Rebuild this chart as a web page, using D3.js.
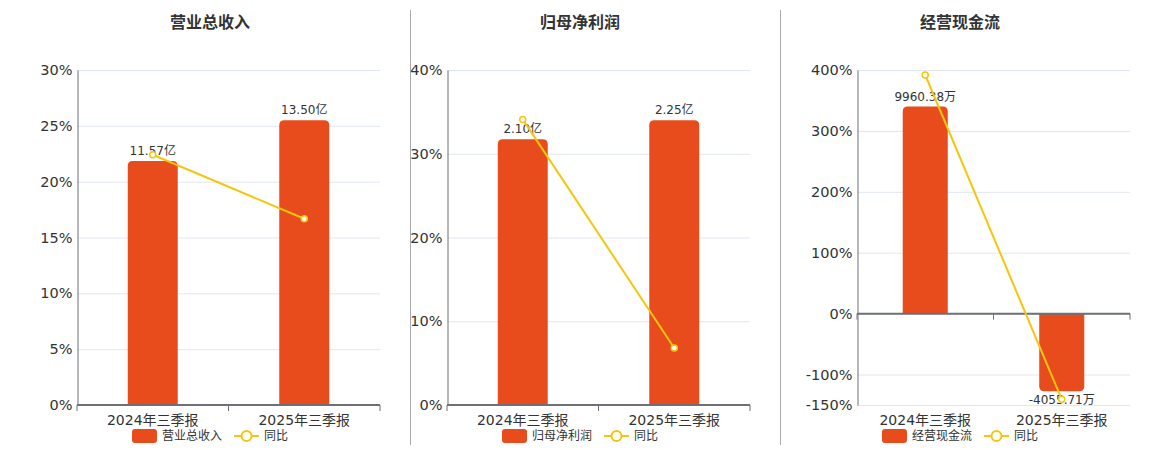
<!DOCTYPE html>
<html><head><meta charset="utf-8">
<script src="https://cdn.jsdelivr.net/npm/d3@7/dist/d3.min.js"></script>
<style>
html,body{margin:0;padding:0;background:#fff;}
svg{display:block;font-family:"DejaVu Sans","Noto Sans CJK SC",sans-serif;}
</style></head>
<body><svg id="c" width="1160" height="450"></svg>
<script>
const categories = ["2024年三季报", "2025年三季报"];
const titles = ["营业总收入", "归母净利润", "经营现金流"];
const barValues = [[11.57, 13.50], [2.10, 2.25], [9960.38, -4055.71]];
const barUnits = ["亿", "亿", "万"];
const yoyValues = [[22.41, 16.68], [34.1, 6.81], [391.8, -140.72]];
const yTicks = [[0, 5, 10, 15, 20, 25, 30], [0, 10, 20, 30, 40], [-150, -100, 0, 100, 200, 300, 400]];
const lineName = "同比";

const BAR = "#E84C1C", LINE = "#F4C60E", TXT = "#333", AX = "#6E7079", GRID = "#E0E6F1";
const panels = [
  {left: 77, right: 380, center: 210},
  {left: 447, right: 750, center: 580},
  {left: 857, right: 1130, center: 960}
];
const plotTop = 70, plotBottom = 405;
const svg = d3.select("#c");

[410, 780].forEach(x => svg.append("line").attr("x1", x + 0.5).attr("x2", x + 0.5).attr("y1", 10).attr("y2", 445)
  .attr("stroke", "#aaa").attr("stroke-width", 1));

function barPath(x, w, y0, y1, r) {
  const h = Math.abs(y1 - y0);
  r = Math.min(r, h, w / 2);
  if (y1 < y0) {
    return `M${x},${y0}L${x},${y1 + r}Q${x},${y1} ${x + r},${y1}L${x + w - r},${y1}Q${x + w},${y1} ${x + w},${y1 + r}L${x + w},${y0}Z`;
  } else {
    return `M${x},${y0}L${x},${y1 - r}Q${x},${y1} ${x + r},${y1}L${x + w - r},${y1}Q${x + w},${y1} ${x + w},${y1 - r}L${x + w},${y0}Z`;
  }
}

panels.forEach((p, i) => {
  const g = svg.append("g");
  const ticks = yTicks[i];
  const y = d3.scaleLinear().domain([d3.min(ticks), d3.max(ticks)]).range([plotBottom, plotTop]);
  const x = d3.scaleBand().domain(categories).range([p.left, p.right]).paddingInner(0).paddingOuter(0);
  const y0 = y(Math.max(0, d3.min(ticks)));
  const bv = barValues[i];
  const bMax = d3.max(bv) / 0.85, bMin = Math.min(0, d3.min(bv) / 0.85);
  const yb = bMin < 0
    ? d3.scaleLinear().domain([bMin, 0, bMax]).range([plotBottom, y0, plotTop])
    : d3.scaleLinear().domain([0, bMax]).range([y0, plotTop]);

  g.append("text").attr("x", p.center).attr("y", 28).attr("text-anchor", "middle")
    .attr("font-size", 16).attr("font-weight", "bold").attr("fill", TXT).text(titles[i]);

  g.selectAll(".grid").data(ticks).enter().append("line")
    .attr("x1", p.left).attr("x2", p.right).attr("y1", d => y(d) + 0.5).attr("y2", d => y(d) + 0.5)
    .attr("stroke", GRID).attr("stroke-width", 1);

  const ya = g.append("g").attr("transform", `translate(${p.left + 0.5},0)`)
    .call(d3.axisLeft(y).tickValues(ticks).tickSize(0).tickPadding(5).tickFormat(d => d + "%"));
  ya.select(".domain").attr("stroke", AX).attr("stroke-width", 1);
  ya.selectAll("text").attr("font-size", 14.5).attr("fill", TXT).attr("font-family", "DejaVu Sans, sans-serif");

  const bw = x.bandwidth() * 0.33;
  g.selectAll(".bar").data(bv).enter().append("path")
    .attr("d", (d, j) => barPath(x(categories[j]) + (x.bandwidth() - bw) / 2, bw, y0, yb(d), 5))
    .attr("fill", BAR);

  const xa = g.append("g").attr("transform", `translate(0,${y0})`);
  xa.append("line").attr("x1", p.left).attr("x2", p.right).attr("y1", 0).attr("y2", 0)
    .attr("stroke", AX).attr("stroke-width", 2);
  const bounds = [p.left].concat(categories.map(c => x(c) + x.bandwidth()));
  xa.selectAll(".tk").data(bounds).enter().append("line")
    .attr("x1", d => d).attr("x2", d => d).attr("y1", 0).attr("y2", 6).attr("stroke", AX).attr("stroke-width", 1);

  g.selectAll(".xl").data(categories).enter().append("text")
    .attr("x", d => x(d) + x.bandwidth() / 2).attr("y", 425).attr("text-anchor", "middle")
    .attr("font-size", 14).attr("fill", TXT).text(d => d);

  g.selectAll(".bl").data(bv).enter().append("text")
    .attr("x", (d, j) => x(categories[j]) + x.bandwidth() / 2)
    .attr("y", d => d >= 0 ? yb(d) - 6 : yb(d) + 13)
    .attr("text-anchor", "middle").attr("font-size", 12).attr("fill", TXT)
    .text(d => d.toFixed(2) + barUnits[i]);

  const lv = yoyValues[i];
  const line = d3.line().x((d, j) => x(categories[j]) + x.bandwidth() / 2).y(d => y(d));
  g.append("path").datum(lv).attr("d", line).attr("fill", "none").attr("stroke", LINE).attr("stroke-width", 2);
  g.selectAll(".pt").data(lv).enter().append("circle")
    .attr("cx", (d, j) => x(categories[j]) + x.bandwidth() / 2).attr("cy", d => y(d)).attr("r", 3)
    .attr("fill", "#fff").attr("stroke", LINE).attr("stroke-width", 1.5);

  const lg = g.append("g");
  const t1 = lg.append("text").attr("font-size", 12).attr("fill", TXT).attr("y", 440).text(titles[i]);
  const w1 = t1.node().getComputedTextLength();
  const t2 = lg.append("text").attr("font-size", 12).attr("fill", TXT).attr("y", 440).text(lineName);
  const w2 = t2.node().getComputedTextLength();
  const total = 25 + 5 + w1 + 12 + 25 + 5 + w2;
  let sx = p.center - total / 2;
  lg.append("rect").attr("x", sx).attr("y", 429).attr("width", 25).attr("height", 14).attr("rx", 3).attr("fill", BAR);
  t1.attr("x", sx + 30);
  sx += 30 + w1 + 12;
  lg.append("line").attr("x1", sx).attr("x2", sx + 25).attr("y1", 436).attr("y2", 436).attr("stroke", LINE).attr("stroke-width", 2);
  lg.append("circle").attr("cx", sx + 12.5).attr("cy", 436).attr("r", 5).attr("fill", "#fff").attr("stroke", LINE).attr("stroke-width", 2);
  t2.attr("x", sx + 30);
});
</script></body></html>
